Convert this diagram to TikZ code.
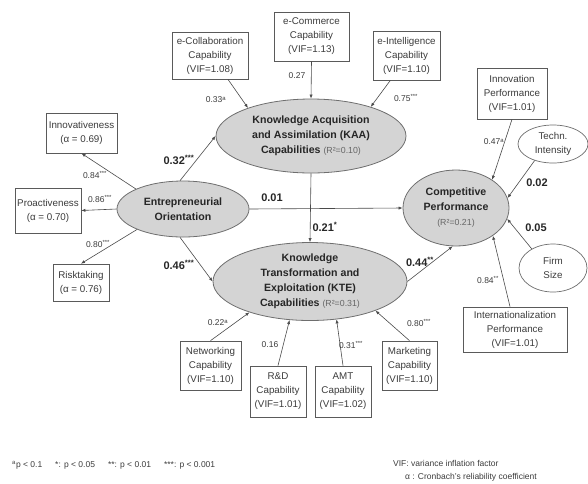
\documentclass[tikz,border=0pt]{standalone}
\usepackage{fontspec}
\setmainfont{Liberation Sans}
\usetikzlibrary{shapes.geometric,arrows.meta,calc}
\definecolor{ellf}{HTML}{D4D4D4}
\definecolor{ellc}{HTML}{6E6E6E}
\definecolor{boxc}{HTML}{5A5A5A}
\definecolor{txt}{HTML}{3C3C3C}
\definecolor{arr}{HTML}{4A4A4A}
\begin{document}
\begin{tikzpicture}[x=1pt,y=-1pt,
  box/.style={draw=boxc, line width=0.7pt, fill=white, align=center, inner sep=0pt,
    font=\fontsize{9.8}{14}\selectfont, text=txt},
  latent/.style={ellipse, draw=ellc, fill=ellf, line width=0.8pt, inner sep=0pt},
  ltxt/.style={align=center, inner sep=0pt, font=\bfseries\fontsize{10.6}{15}\selectfont, text=black!85},
  wlat/.style={ellipse, draw=ellc, fill=white, line width=0.7pt, inner sep=0pt, align=center,
    font=\fontsize{9.8}{14}\selectfont, text=txt},
  arrow/.style={draw=arr, line width=0.6pt, -{Latex[length=4pt,width=3.2pt]}},
  lab/.style={inner sep=0pt, font=\fontsize{8.5}{9}\selectfont, text=txt},
  blab/.style={inner sep=0pt, font=\bfseries\fontsize{11}{12}\selectfont, text=black!85},
  foot/.style={inner sep=0pt, anchor=west, font=\fontsize{8.5}{10}\selectfont, text=txt}]
\useasboundingbox (0,0) rectangle (588,483);
\newcommand{\rsq}[1]{{\mdseries\fontsize{8.8}{10}\selectfont\color{black!60}(R²=#1)}}

% capability boxes around KAA
\node[box, minimum width=76pt, minimum height=47pt] (ecol) at (210,55.5) {e-Collaboration\\Capability\\(VIF=1.08)};
\node[box, minimum width=75pt, minimum height=49pt] (ecom) at (311.5,36.5) {e-Commerce\\Capability\\(VIF=1.13)};
\node[box, minimum width=67pt, minimum height=49pt] (eint) at (406.5,55.5) {e-Intelligence\\Capability\\(VIF=1.10)};

% latent variables
\node[latent, minimum width=190pt, minimum height=74pt] (kaa) at (311,136) {};
\node[ltxt] (kaat) at (kaa.center) {Knowledge Acquisition\\and Assimilation (KAA)\\Capabilities \rsq{0.10}};
\node[latent, minimum width=132pt, minimum height=56pt] (eo) at (183,209) {};
\node[ltxt] (eot) at (eo.center) {Entrepreneurial\\Orientation};
\node[latent, minimum width=106pt, minimum height=76pt] (cp) at (456,208) {};
\node[ltxt] (cpt) at (cp.center) {Competitive\\Performance\\\rsq{0.21}};
\node[latent, minimum width=194pt, minimum height=78pt] (kte) at (310,281.5) {};
\node[ltxt] (ktet) at (kte.center) {Knowledge\\Transformation and\\Exploitation (KTE)\\Capabilities \rsq{0.31}};

% EO indicators
\node[box, minimum width=71pt, minimum height=40pt] (innov) at (81.5,133) {Innovativeness\\(α = 0.69)};
\node[box, minimum width=66pt, minimum height=45pt] (proact) at (48,210.5) {Proactiveness\\(α = 0.70)};
\node[box, minimum width=56pt, minimum height=37pt] (risk) at (81,282.5) {Risktaking\\(α = 0.76)};

% CP side
\node[box, minimum width=70pt, minimum height=51pt] (innp) at (512,93.5) {Innovation\\Performance\\(VIF=1.01)};
\node[wlat, minimum width=70pt, minimum height=38pt] (tech) at (553,144) {Techn.\\Intensity};
\node[wlat, minimum width=68pt, minimum height=48pt] (firm) at (553,268) {Firm\\Size};
\node[box, minimum width=104pt, minimum height=45pt] (intl) at (515,329.5) {Internationalization\\Performance\\(VIF=1.01)};

% KTE capability boxes
\node[box, minimum width=61pt, minimum height=49pt] (netw) at (210.5,365.5) {Networking\\Capability\\(VIF=1.10)};
\node[box, minimum width=56pt, minimum height=51pt] (rd) at (278,391.5) {R\&D\\Capability\\(VIF=1.01)};
\node[box, minimum width=56pt, minimum height=51pt] (amt) at (343,391.5) {AMT\\Capability\\(VIF=1.02)};
\node[box, minimum width=55pt, minimum height=49pt] (mkt) at (409.5,365.5) {Marketing\\Capability\\(VIF=1.10)};

% arrows
\draw[arrow] (ecol.-53) -- (kaa.156);
\draw[arrow] (ecom.south) -- (kaa.north);
\draw[arrow] (eint.-123) -- (kaa.26);
\draw[arrow] (eo.157) -- (innov.south);
\draw[arrow] (eo.west) -- (proact.east);
\draw[arrow] (eo.204) -- (risk.north);
\draw[arrow] (eo.96) -- (kaa.180);
\draw[arrow] (eo.-96) -- (kte.west);
\draw[arrow] (eo.east) -- (cp.west);
\draw[arrow] (kaa.south) -- (kte.north);
\draw[arrow] (kte.east) -- (cp.-95);
\draw[arrow] (innp.south) -- (cp.38);
\draw[arrow] (tech.222) -- (cp.11);
\draw[arrow] (firm.138) -- (cp.-12);
\draw[arrow] ($(intl.north)+(-5,0)$) -- (cp.-37);
\draw[arrow] (netw.north) -- (kte.207);
\draw[arrow] (rd.north) -- (kte.242);
\draw[arrow] (amt.north) -- (kte.-55);
\draw[arrow] (mkt.north) -- (kte.-24);

% path labels
\node[lab] (l1) at (216,100) {0.33\textsuperscript{a}};
\node[lab] (l2) at (297,76) {0.27};
\node[lab] (l3) at (406,98) {0.75\textsuperscript{***}};
\node[blab] (l4) at (179,160) {0.32\textsuperscript{***}};
\node[blab] (l5) at (179,265) {0.46\textsuperscript{***}};
\node[lab] (l6) at (95,175) {0.84\textsuperscript{***}};
\node[lab] (l7) at (100,199) {0.86\textsuperscript{***}};
\node[lab] (l8) at (98,244) {0.80\textsuperscript{***}};
\node[blab] (l9) at (272,198) {0.01};
\node[blab] (l10) at (325,227) {0.21\textsuperscript{*}};
\node[blab] (l11) at (420,262) {0.44\textsuperscript{**}};
\node[lab] (l12) at (494,142) {0.47\textsuperscript{a}};
\node[blab] (l13) at (537,183) {0.02};
\node[blab] (l14) at (536,228) {0.05};
\node[lab] (l15) at (488,280) {0.84\textsuperscript{**}};
\node[lab] (l16) at (218,323) {0.22\textsuperscript{a}};
\node[lab] (l17) at (270,345) {0.16};
\node[lab] (l18) at (351,345) {0.31\textsuperscript{***}};
\node[lab] (l19) at (419,323) {0.80\textsuperscript{***}};

% footnotes
\node[foot] (f1) at (12,465) {\textsuperscript{a}p < 0.1\hspace{13pt}*: p < 0.05\hspace{13pt}**: p < 0.01\hspace{13pt}***: p < 0.001};
\node[foot] (f2) at (393,463) {VIF: variance inflation factor};
\node[foot] (f3) at (405,477) {α : Cronbach's reliability coefficient};
\end{tikzpicture}
\end{document}
